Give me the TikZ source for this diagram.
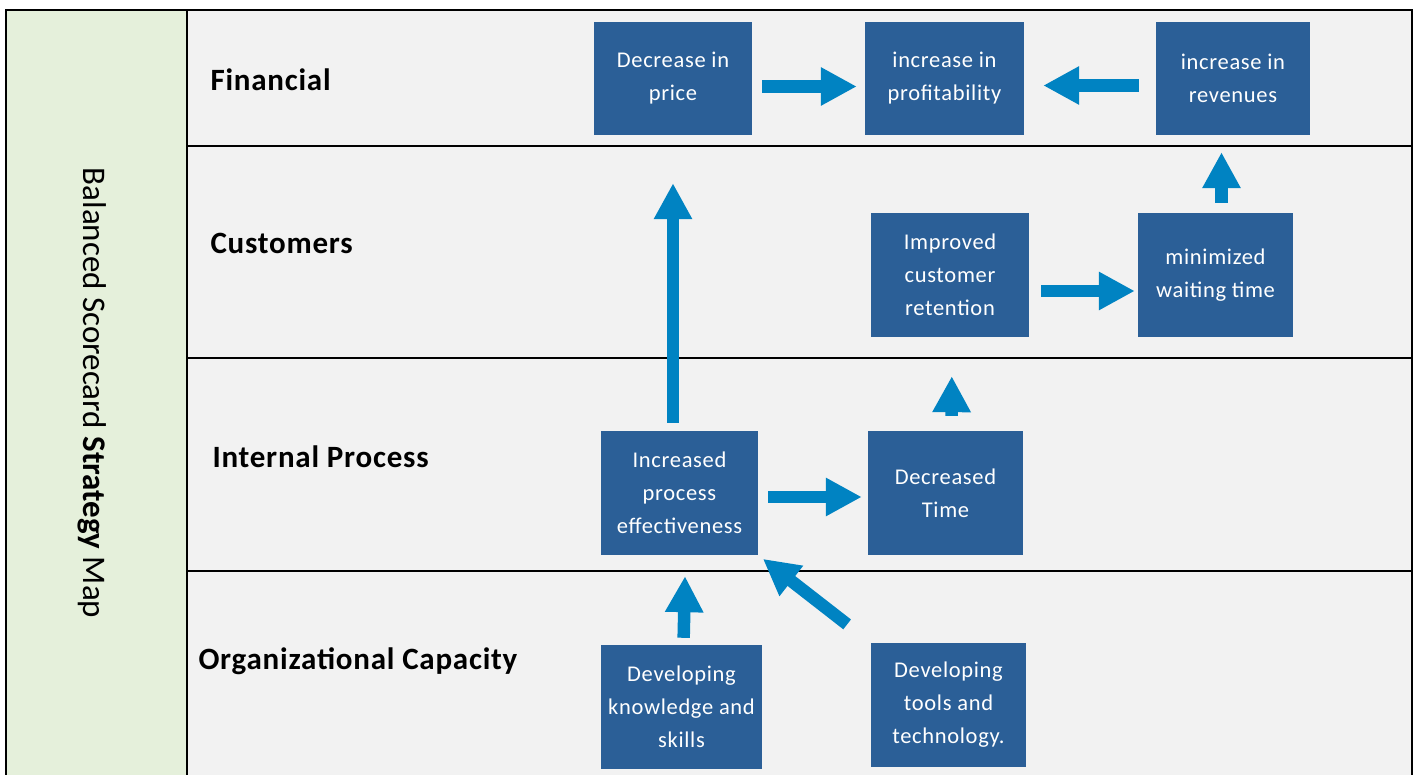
\documentclass[tikz,border=0pt]{standalone}
\usepackage{fontspec}
\setmainfont{Carlito}
\newfontfamily\goalfont[LetterSpace=3]{Carlito}
\newfontfamily\rowfont[LetterSpace=2.5]{Carlito}
\usepackage{tikz}
\usetikzlibrary{arrows.meta}
\definecolor{boxblue}{HTML}{2B5F97}
\definecolor{arrowblue}{HTML}{0083C2}
\definecolor{rowgray}{HTML}{F2F2F2}
\definecolor{sidegreen}{HTML}{E5F0DB}

\begin{document}
\begin{tikzpicture}[x=1pt,y=-1pt,
    goal/.style={fill=boxblue, text=white, align=center, inner sep=0pt, font=\goalfont\fontsize{22.5}{33}\selectfont},
    flow/.style={draw=arrowblue, line width=12.5pt, -{Triangle[length=36pt,width=36pt]}},
    rowname/.style={anchor=west, font=\rowfont\fontsize{31}{36}\selectfont\bfseries}]
  \useasboundingbox (0,0) rectangle (1417,775);
  \clip (0,0) rectangle (1417,775);
  \fill[white] (0,0) rectangle (1417,775);
  \fill[sidegreen] (6,10) rectangle (187,790); % title column
  \fill[rowgray] (187,10) rectangle (1412,790); % perspective rows
  \draw[line width=2.5pt] (6,790) -- (6,10) -- (1412,10) -- (1412,790); % frame
  \draw[line width=2pt] (187,10) -- (187,790);
  \foreach \y in {146,358,571}
    \draw[line width=2pt] (187,\y) -- (1412,\y);

  % title and row names
  \node[rotate=-90, font=\fontsize{33}{38}\selectfont] (title) at (92,393) {Balanced Scorecard \textbf{Strategy} Map};
  \node[rowname] (fin) at (207,80) {Financial};
  \node[rowname] (cust) at (207,243) {Customers};
  \node[rowname] (int) at (209,457) {Internal Process};
  \node[rowname] (org) at (195,661) {Organizational Capacity};

  % objectives
  \node[goal, minimum width=158pt, minimum height=113pt] (price) at (673,78.5) {Decrease in\\price};
  \node[goal, minimum width=159pt, minimum height=113pt] (profit) at (944.5,78.5) {increase in\\profitability};
  \node[goal, minimum width=154pt, minimum height=113pt] (revenue) at (1233,78.5) {increase in\\revenues};
  \node[goal, minimum width=158pt, minimum height=124pt] (retention) at (950,275) {Improved\\customer\\retention};
  \node[goal, minimum width=155pt, minimum height=124pt] (waiting) at (1215.5,275) {minimized\\waiting time};
  \node[goal, minimum width=157pt, minimum height=124pt] (process) at (679.5,493) {Increased\\process\\effectiveness};
  \node[goal, minimum width=155pt, minimum height=124pt] (dectime) at (945.5,493) {Decreased\\Time};
  \node[goal, minimum width=161pt, minimum height=124pt] (skills) at (681.5,707) {Developing\\knowledge and\\skills};
  \node[goal, minimum width=155pt, minimum height=124pt] (tools) at (948.5,705) {Developing\\tools and\\technology.};

  % cause and effect links
  \draw[flow, shorten <=10pt, shorten >=8pt] ([yshift=-8pt]price.east) -- ([yshift=-8pt]profit.west);
  \draw[flow, shorten <=17pt, shorten >=19pt] ([yshift=-7pt]revenue.west) -- ([yshift=-7pt]profit.east);
  \draw[flow, shorten <=8pt, shorten >=48pt] (process.north -| price.south) -- (price.south);
  \draw[flow, shorten <=12pt, shorten >=3pt] ([yshift=-16pt]retention.east) -- ([yshift=-16pt]waiting.west);
  \draw[flow, shorten <=10pt, shorten >=17pt] ([xshift=6pt]waiting.north) -- ([xshift=6pt]waiting.north |- revenue.south);
  \draw[flow, shorten <=15pt, shorten >=39pt] ([xshift=6pt]dectime.north) -- ([xshift=2pt]retention.south);
  \draw[flow, shorten <=10pt, shorten >=6pt] ([yshift=-4pt]process.east) -- ([yshift=-4pt]dectime.west);
  \draw[flow, shorten <=7pt, shorten >=21pt] ([xshift=2pt]skills.north) -- ([xshift=6pt]process.south);
  \draw[flow, shorten <=30pt, shorten >=6pt] (tools.north west) -- (process.south east);
\end{tikzpicture}
\end{document}
